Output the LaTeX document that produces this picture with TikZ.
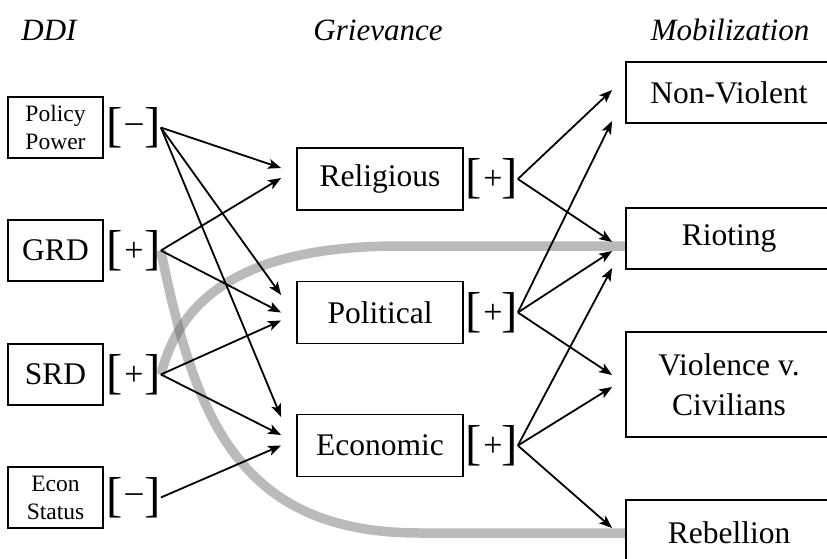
\documentclass[tikz,border=0pt]{standalone}
\usepackage{fontspec}
\setmainfont{Liberation Serif}
\usetikzlibrary{arrows.meta}
\begin{document}
\begin{tikzpicture}[x=1pt,y=-1pt,
 bigbox/.style={draw, line width=1.8pt, inner sep=0pt, align=center, font=\fontsize{31.5}{40}\selectfont},
 smallbox/.style={draw, line width=1.8pt, minimum width=95pt, minimum height=61pt, inner sep=0pt, align=center, font=\fontsize{23.5}{28}\selectfont},
 brk/.style={inner sep=0pt, font=\fontsize{49}{49}\selectfont},
 sgn/.style={inner sep=0pt, font=\fontsize{34}{34}\selectfont},
 head/.style={inner sep=0pt, anchor=base, font=\fontsize{31}{31}\selectfont\itshape},
 arr/.style={line width=1.8pt, -{Stealth[length=13pt,width=10pt,inset=3pt]}},
 band/.style={line width=9.5pt, color={rgb,255:red,100;green,100;blue,103}, opacity=0.445},
]
\useasboundingbox (0,0) rectangle (827,559);
\clip (0,0) rectangle (827,559);

% headings
\node[head] (hddi) at (49,41) {DDI};
\node[head] (hgr) at (378,41) {Grievance};
\node[head] (hmob) at (730,41) {Mobilization};

% left boxes
\node[smallbox] (pp) at (55.5,127.5) {Policy\\Power};
\node[smallbox, font=\fontsize{31.5}{40}\selectfont] (grd) at (55.5,250.5) {GRD};
\node[smallbox, font=\fontsize{31.5}{40}\selectfont] (srd) at (55.5,374.5) {SRD};
\node[smallbox] (ec) at (55.5,497.5) {Econ\\Status};

% left brackets
\foreach \n/\y/\s in {pp/127.5/–, grd/250.5/+, srd/374.5/+, ec/497.5/–}{
  \node[brk] (\n L) at (115,\y) {[};
  \node[sgn] (\n S) at (134,\y+1) {\s};
  \node[brk] (\n R) at (152.5,\y) {]};
}

% middle boxes
\node[bigbox, minimum width=166pt, minimum height=62pt] (rel) at (380,179) {Religious};
\node[bigbox, minimum width=166pt, minimum height=62pt] (pol) at (380,312.5) {Political};
\node[bigbox, minimum width=166pt, minimum height=62pt] (eco) at (380,445.5) {Economic};

% middle brackets
\foreach \n/\y in {rel/179, pol/312.5, eco/445.5}{
  \node[brk] (\n L) at (474,\y) {[};
  \node[sgn] (\n S) at (493,\y+1) {+};
  \node[brk] (\n R) at (509.5,\y) {]};
}

% right boxes
\node[bigbox, minimum width=206pt, minimum height=61pt] (nv) at (729,92.5) {Non-Violent};
\node[bigbox, minimum width=206pt, minimum height=61pt] (riot) at (729,238.5) {Rioting};
\node[bigbox, minimum width=206pt, minimum height=105pt] (viol) at (729,384.5) {Violence v.\\Civilians};
\node[bigbox, minimum width=206pt, minimum height=66pt] (reb) at (729,533) {Rebellion};

% gray bands
\draw[band] (grdR.east) .. controls (195,420) and (240,533) .. (420,533) -- (reb.west);
\draw[band] (srdR.east) .. controls (180,300) and (240,246) .. (400,246) -- ([yshift=-7.5pt]riot.west);

% arrows DDI -> grievance
\draw[arr] (ppR.east) -- ([xshift=-15pt,yshift=11pt]rel.west);
\draw[arr] (ppR.east) -- ([xshift=-15pt,yshift=17.5pt]pol.west);
\draw[arr] (ppR.east) -- ([xshift=-15pt,yshift=28.5pt]eco.west);
\draw[arr] (grdR.east) -- ([xshift=-15pt,yshift=1pt]rel.west);
\draw[arr] (grdR.east) -- ([xshift=-15pt]pol.west);
\draw[arr] (srdR.east) -- ([xshift=-15pt,yshift=-8pt]pol.west);
\draw[arr] (srdR.east) -- ([xshift=-15pt,yshift=10.5pt]eco.west);
\draw[arr] (ecR.east) -- ([xshift=-15pt]eco.west);

% arrows grievance -> mobilization
\draw[arr] (relR.east) -- ([xshift=-13pt,yshift=2.5pt]nv.west);
\draw[arr] (relR.east) -- ([xshift=-13pt,yshift=-3.5pt]riot.west);
\draw[arr] (polR.east) -- ([xshift=-13pt,yshift=-28.5pt]nv.west);
\draw[arr] (polR.east) -- ([xshift=-13pt,yshift=-12.5pt]riot.west);
\draw[arr] (polR.east) -- ([xshift=-13pt,yshift=9.5pt]viol.west);
\draw[arr] (ecoR.east) -- ([xshift=-13pt,yshift=-29.5pt]riot.west);
\draw[arr] (ecoR.east) -- ([xshift=-13pt,yshift=-2.5pt]viol.west);
\draw[arr] (ecoR.east) -- ([xshift=-13pt,yshift=5pt]reb.west);
\end{tikzpicture}
\end{document}
